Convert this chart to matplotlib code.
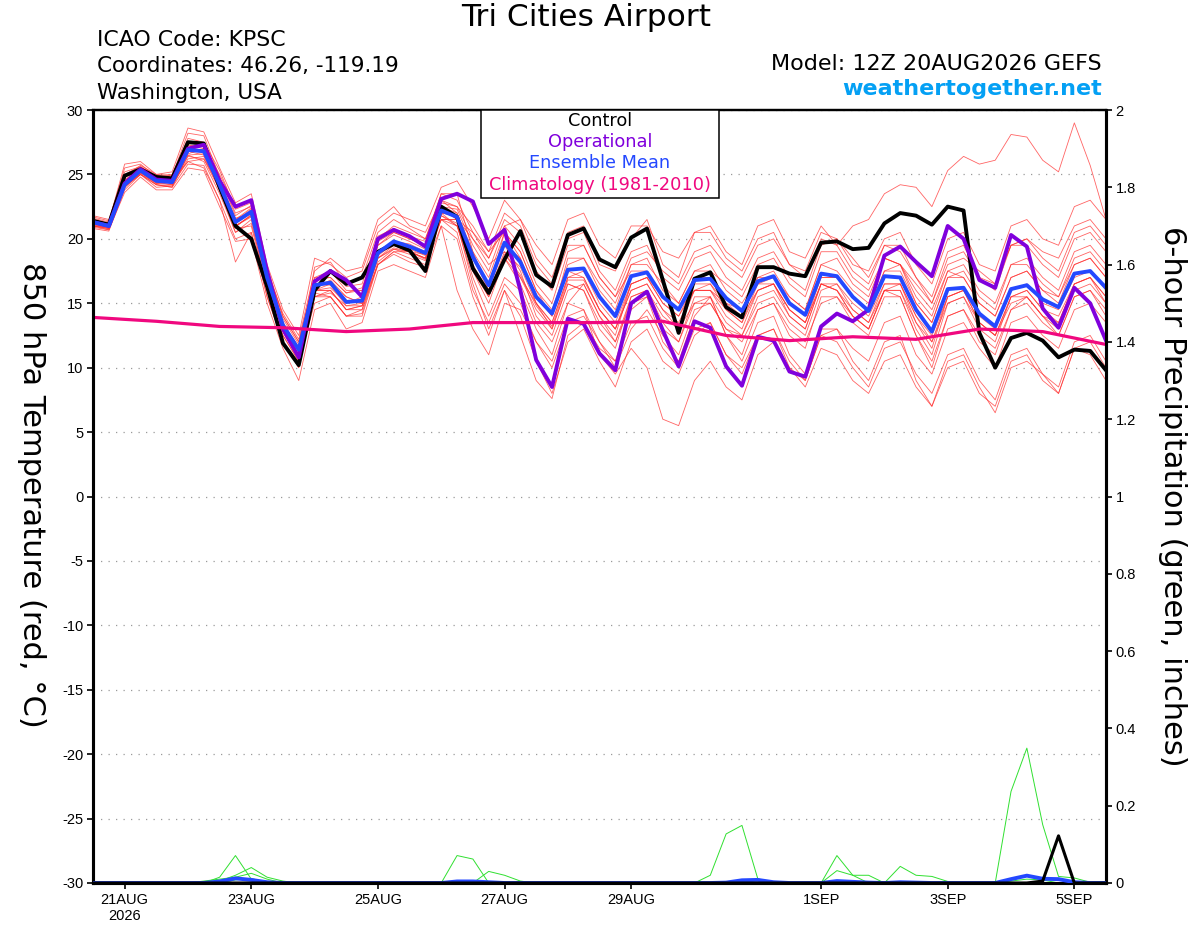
import matplotlib
matplotlib.use('Agg')
import matplotlib.pyplot as plt
import matplotlib.ticker as mticker
from matplotlib.patches import Rectangle
import pandas as pd

plt.rcParams['font.family'] = ['Liberation Sans', 'DejaVu Sans']
plt.rcParams['axes.unicode_minus'] = False
WIDE = ['DejaVu Sans']

# ---------------- data ----------------
times = pd.date_range('2026-08-20 12:00', periods=65, freq='6h')
clim_times = pd.date_range('2026-08-20 12:00', periods=17, freq='1D')

control = [21.4, 21.1, 24.9, 25.4, 24.8, 24.7, 27.5, 27.4, 24.0, 21.0, 20.0,
           16.3, 11.9, 10.2, 16.0, 17.5, 16.5, 17.0, 19.0, 19.6, 19.1, 17.5,
           22.5, 21.7, 17.7, 15.8, 18.4, 20.6, 17.2, 16.3, 20.3, 20.8, 18.4,
           17.8, 20.1, 20.8, 16.8, 12.7, 16.9, 17.4, 14.7, 13.9, 17.8, 17.8,
           17.3, 17.1, 19.7, 19.8, 19.2, 19.3, 21.2, 22.0, 21.8, 21.1, 22.5,
           22.2, 12.7, 10.0, 12.3, 12.7, 12.1, 10.8, 11.4, 11.3, 9.8]

operational = [21.3, 21.0, 24.3, 25.4, 24.6, 24.5, 27.0, 27.3, 24.5, 22.5, 23.0,
               17.5, 13.0, 10.8, 16.7, 17.5, 16.8, 15.5, 20.0, 20.7, 20.2, 19.4,
               23.1, 23.5, 22.9, 19.6, 20.7, 16.0, 10.6, 8.5, 13.8, 13.4, 11.1,
               9.8, 15.0, 15.9, 12.9, 10.1, 13.6, 13.1, 10.1, 8.6, 12.4, 12.1,
               9.7, 9.3, 13.2, 14.2, 13.6, 14.5, 18.7, 19.4, 18.2, 17.1, 21.0,
               20.0, 16.8, 16.2, 20.3, 19.4, 14.6, 13.1, 16.2, 15.0, 12.1]

ens_mean = [21.3, 21.0, 24.2, 25.3, 24.5, 24.4, 26.9, 26.8, 24.2, 21.3, 22.1,
            17.0, 13.3, 11.4, 16.4, 16.6, 15.1, 15.2, 18.9, 19.8, 19.4, 18.9,
            22.2, 21.7, 18.6, 16.4, 19.7, 18.2, 15.5, 14.2, 17.6, 17.7, 15.5,
            14.0, 17.1, 17.4, 15.5, 14.5, 16.8, 16.9, 15.4, 14.4, 16.7, 17.1,
            15.0, 14.1, 17.3, 17.1, 15.5, 14.4, 17.1, 17.0, 14.5, 12.8, 16.1,
            16.2, 14.2, 13.2, 16.1, 16.4, 15.3, 14.7, 17.3, 17.5, 16.2]

climatology = [13.9, 13.6, 13.2, 13.1, 12.8, 13.0, 13.5, 13.5, 13.5,
               13.6, 12.5, 12.1, 12.4, 12.2, 13.0, 12.8, 11.8]

mem01 = [21.5, 21.2, 25.5, 25.8, 24.8, 24.9, 28.2, 28.0, 24.8, 22.0, 22.5,
         17.5, 13.0, 11.0, 17.8, 18.2, 16.5, 17.0, 20.5, 21.5, 20.8, 20.0,
         23.5, 23.0, 20.5, 18.5, 21.0, 21.5, 18.5, 17.0, 20.5, 21.0, 18.0,
         17.5, 20.0, 21.5, 18.0, 17.0, 20.5, 21.0, 19.0, 18.0, 21.0, 21.5,
         19.0, 18.5, 21.0, 19.5, 21.0, 21.5, 23.5, 24.2, 24.0, 22.5, 25.3,
         26.4, 25.8, 26.1, 28.1, 27.9, 26.1, 25.2, 29.0, 25.7, 21.5]
mem02 = [21.0, 20.8, 24.0, 25.0, 24.2, 24.0, 26.5, 26.0, 23.5, 20.5, 21.5,
         16.0, 12.5, 10.5, 15.0, 15.5, 14.0, 14.5, 18.0, 19.0, 18.5, 18.0,
         21.5, 20.5, 16.0, 13.5, 16.5, 15.0, 12.0, 10.5, 14.0, 14.5, 12.0,
         10.5, 13.5, 14.0, 11.5, 10.0, 13.0, 13.5, 11.0, 9.5, 12.5, 13.0,
         10.5, 9.0, 12.5, 12.0, 10.0, 8.5, 11.5, 12.0, 9.5, 8.0, 11.0,
         11.5, 9.0, 7.5, 11.0, 11.5, 9.5, 8.0, 11.5, 11.0, 9.0]
mem03 = [21.8, 21.5, 25.2, 25.6, 24.9, 25.0, 27.5, 27.2, 25.0, 22.5, 23.0,
         17.8, 14.0, 12.0, 17.0, 17.5, 16.0, 16.0, 20.0, 21.0, 20.5, 20.0,
         23.0, 22.5, 21.0, 19.0, 22.0, 21.0, 18.0, 16.5, 20.0, 20.5, 17.5,
         16.0, 19.0, 19.5, 17.0, 16.0, 18.5, 19.0, 17.0, 16.0, 18.5, 19.0,
         17.0, 16.0, 19.5, 20.0, 18.0, 17.5, 20.0, 20.5, 18.0, 16.5, 20.0,
         20.5, 18.0, 17.5, 21.0, 21.5, 20.0, 19.5, 22.5, 23.0, 21.5]
mem04 = [21.1, 20.9, 24.5, 25.5, 24.6, 24.3, 26.0, 25.5, 23.0, 20.0, 20.5,
         15.5, 12.0, 10.0, 16.0, 16.5, 15.5, 15.0, 19.5, 20.5, 20.0, 19.5,
         22.5, 22.0, 19.0, 17.0, 20.5, 19.0, 16.0, 14.5, 18.0, 18.5, 16.0,
         14.5, 18.0, 18.0, 16.5, 15.0, 17.5, 18.0, 16.0, 15.0, 17.0, 17.5,
         15.5, 14.5, 18.0, 17.5, 16.0, 15.0, 18.5, 18.0, 15.5, 14.0, 17.5,
         17.0, 15.0, 14.0, 17.0, 17.5, 16.0, 15.5, 18.0, 18.5, 17.0]
mem05 = [21.5, 21.0, 24.0, 25.2, 24.4, 24.6, 27.0, 27.3, 24.5, 21.5, 22.0,
         17.0, 13.5, 11.5, 16.5, 16.5, 15.0, 15.5, 19.0, 19.5, 19.0, 18.5,
         22.0, 21.0, 17.0, 14.0, 17.0, 16.0, 13.0, 11.0, 15.0, 16.5, 14.0,
         12.0, 15.0, 15.5, 12.0, 10.5, 14.0, 15.5, 12.5, 10.5, 13.5, 14.0,
         11.0, 9.5, 13.0, 13.0, 10.5, 9.0, 12.0, 12.5, 9.0, 7.0, 10.5,
         11.0, 8.5, 6.5, 10.0, 10.5, 9.5, 8.5, 12.0, 12.5, 10.5]
mem06 = [20.8, 20.6, 23.8, 25.0, 24.0, 24.1, 26.2, 26.4, 23.8, 20.8, 21.0,
         16.0, 12.5, 10.5, 15.5, 16.0, 14.5, 14.8, 18.0, 19.0, 19.0, 18.8,
         21.5, 21.5, 20.0, 18.0, 19.0, 17.0, 15.0, 13.5, 17.0, 17.0, 14.5,
         13.0, 16.0, 16.5, 14.5, 13.0, 16.0, 16.0, 14.0, 13.0, 16.0, 16.5,
         14.0, 13.0, 16.5, 16.0, 14.0, 13.0, 16.0, 16.0, 13.0, 11.0, 15.0,
         15.5, 13.0, 12.0, 15.5, 16.0, 14.5, 13.5, 16.5, 17.0, 15.5]
mem07 = [21.6, 21.3, 25.8, 26.0, 25.0, 25.2, 28.6, 28.3, 25.5, 22.8, 23.5,
         18.0, 14.5, 12.5, 18.5, 18.0, 17.0, 17.5, 21.0, 22.0, 21.5, 21.0,
         24.0, 24.5, 22.5, 20.0, 23.0, 21.5, 19.5, 18.0, 21.5, 22.0, 19.5,
         18.5, 21.0, 21.0, 19.0, 18.5, 20.5, 20.5, 18.5, 17.5, 20.0, 20.5,
         18.0, 17.5, 20.5, 20.0, 18.5, 17.0, 19.5, 19.0, 17.0, 15.5, 19.0,
         19.5, 17.0, 16.5, 19.5, 20.0, 18.5, 17.5, 20.5, 21.0, 19.5]
mem08 = [21.2, 21.0, 24.3, 25.2, 24.3, 24.2, 26.8, 26.5, 24.0, 21.0, 21.8,
         16.5, 13.0, 11.0, 16.0, 16.0, 14.5, 14.5, 18.5, 19.5, 19.0, 18.5,
         21.8, 21.0, 17.5, 15.0, 18.5, 16.5, 13.5, 12.0, 15.0, 14.5, 11.0,
         9.5, 11.5, 10.0, 6.0, 5.5, 9.0, 10.5, 8.5, 7.5, 11.0, 12.0,
         10.0, 9.0, 12.5, 13.0, 11.5, 10.5, 13.5, 14.0, 11.0, 9.5, 13.0,
         13.5, 11.5, 10.0, 13.5, 14.0, 12.5, 11.5, 14.5, 15.0, 13.5]
mem09 = [21.0, 20.7, 23.6, 24.8, 23.8, 23.8, 25.5, 25.3, 22.5, 19.8, 20.0,
         15.0, 11.5, 9.0, 14.5, 15.0, 13.0, 13.5, 17.5, 18.0, 17.5, 17.0,
         21.0, 16.0, 13.0, 11.0, 15.0, 14.5, 12.0, 10.0, 13.5, 14.0, 12.0,
         10.0, 13.0, 14.5, 12.5, 11.0, 14.5, 15.0, 13.0, 12.0, 14.5, 15.0,
         13.0, 12.0, 15.0, 15.5, 14.0, 13.0, 16.0, 16.5, 14.0, 12.0, 15.5,
         16.0, 13.5, 12.5, 15.0, 15.5, 14.0, 13.0, 16.0, 16.5, 15.0]
mem10 = [21.4, 21.1, 24.6, 25.4, 24.7, 24.5, 27.3, 27.0, 24.3, 21.4, 22.3,
         17.2, 13.8, 11.8, 16.8, 17.0, 15.8, 16.0, 19.5, 20.3, 19.8, 19.2,
         22.5, 22.3, 19.5, 17.5, 21.0, 19.5, 16.5, 15.0, 19.0, 19.5, 17.0,
         15.5, 18.5, 19.0, 17.5, 16.5, 19.0, 19.5, 18.0, 17.0, 19.5, 20.0,
         18.0, 17.0, 20.0, 19.5, 17.5, 16.5, 19.5, 19.5, 17.0, 15.0, 18.5,
         19.0, 17.0, 16.0, 19.5, 19.5, 18.0, 17.0, 20.0, 20.5, 19.0]
mem11 = [21.3, 20.9, 24.0, 25.1, 24.4, 24.2, 26.4, 26.2, 23.8, 20.5, 21.2,
         16.5, 12.8, 10.8, 15.8, 15.5, 14.0, 14.0, 18.0, 18.8, 18.2, 17.8,
         21.0, 20.0, 15.5, 12.5, 16.0, 14.0, 10.5, 8.0, 12.0, 13.0, 10.5,
         8.5, 12.0, 13.0, 10.5, 9.5, 12.5, 13.5, 11.0, 10.0, 12.5, 13.0,
         10.0, 8.5, 11.5, 11.0, 9.0, 8.0, 10.5, 11.0, 8.5, 7.0, 10.0,
         10.5, 8.0, 7.0, 10.5, 11.0, 9.0, 8.0, 11.5, 12.0, 10.0]
mem12 = [21.7, 21.4, 24.9, 25.7, 25.0, 24.9, 27.8, 27.5, 25.3, 22.3, 22.8,
         17.5, 14.2, 12.2, 17.5, 18.5, 17.5, 17.8, 21.5, 22.5, 21.0, 20.5,
         23.0, 22.0, 18.5, 16.0, 19.5, 18.5, 15.5, 14.0, 17.5, 17.0, 14.5,
         13.0, 16.5, 17.0, 15.0, 14.0, 16.0, 16.5, 14.5, 13.5, 16.5, 17.0,
         15.5, 14.5, 18.0, 18.5, 16.5, 15.5, 18.5, 18.0, 15.0, 13.5, 17.0,
         17.5, 15.5, 14.5, 18.0, 18.5, 17.0, 16.0, 19.0, 19.5, 18.0]
mem13 = [20.9, 20.7, 24.1, 25.0, 24.2, 24.0, 25.8, 25.7, 23.0, 18.2, 20.5,
         15.5, 12.0, 10.0, 15.5, 15.8, 14.8, 15.0, 18.5, 19.2, 19.0, 18.5,
         21.5, 21.5, 20.5, 19.0, 20.5, 18.5, 15.0, 13.0, 16.5, 16.0, 13.0,
         11.5, 15.5, 16.0, 13.5, 12.0, 15.5, 15.5, 12.5, 11.0, 14.5, 15.0,
         12.5, 11.5, 15.5, 15.5, 13.5, 12.5, 15.5, 15.5, 12.5, 10.0, 14.0,
         14.5, 12.0, 11.0, 14.5, 15.5, 14.0, 12.5, 15.5, 16.0, 14.5]
mem14 = [21.2, 20.9, 24.5, 25.3, 24.6, 24.6, 27.2, 27.3, 24.8, 21.8, 22.6,
         17.3, 13.5, 11.3, 16.8, 17.5, 16.3, 16.5, 20.2, 20.8, 20.2, 19.8,
         23.5, 23.5, 19.0, 16.0, 20.5, 19.0, 16.0, 14.0, 18.5, 18.5, 16.5,
         15.0, 18.0, 18.5, 16.0, 15.0, 17.5, 17.5, 16.5, 15.5, 18.0, 18.5,
         16.5, 15.5, 19.0, 19.0, 17.0, 16.0, 18.5, 18.0, 16.0, 14.5, 17.5,
         18.0, 16.0, 15.0, 18.0, 18.0, 16.5, 15.5, 18.5, 19.0, 17.5]
mem15 = [21.0, 20.8, 24.8, 25.4, 24.3, 24.4, 26.8, 26.8, 23.8, 21.0, 21.8,
         16.8, 13.3, 11.5, 16.0, 16.2, 15.0, 15.2, 19.0, 19.5, 19.3, 18.8,
         22.3, 21.5, 17.5, 15.5, 18.5, 17.0, 14.5, 13.0, 16.5, 16.0, 13.5,
         12.0, 15.5, 16.0, 14.0, 13.0, 15.0, 15.0, 13.0, 12.5, 15.0, 15.5,
         13.5, 12.5, 16.0, 16.5, 14.5, 13.5, 16.5, 16.5, 13.5, 11.5, 15.5,
         16.0, 13.5, 12.5, 15.5, 15.5, 14.0, 13.5, 16.5, 17.0, 15.0]
mem16 = [21.4, 21.0, 24.1, 25.0, 24.4, 24.7, 26.6, 27.0, 24.5, 21.6, 22.0,
         17.0, 13.2, 11.2, 16.2, 16.8, 15.5, 15.0, 18.8, 19.8, 19.6, 19.0,
         22.0, 21.8, 18.5, 16.5, 19.5, 17.5, 14.0, 12.5, 16.0, 16.5, 14.0,
         12.5, 16.5, 17.0, 15.5, 14.5, 16.0, 16.0, 15.0, 14.5, 17.0, 17.0,
         15.0, 14.0, 17.0, 17.0, 15.5, 14.5, 17.5, 18.0, 16.5, 15.0, 18.0,
         18.5, 17.5, 16.5, 19.5, 20.0, 19.0, 18.5, 21.0, 21.5, 20.0]
mem17 = [21.3, 21.0, 24.4, 25.5, 24.5, 24.3, 27.0, 26.9, 24.1, 21.2, 22.2,
         17.0, 13.4, 11.6, 16.5, 16.4, 14.8, 14.8, 18.7, 19.6, 19.2, 18.7,
         22.0, 21.8, 18.0, 15.8, 19.0, 17.8, 15.0, 13.5, 17.0, 17.5, 15.0,
         13.5, 16.5, 17.0, 15.0, 14.0, 16.5, 16.5, 15.0, 14.0, 16.0, 16.5,
         14.5, 13.5, 16.5, 16.5, 15.0, 14.0, 16.5, 16.5, 14.0, 12.5, 15.5,
         16.0, 14.0, 13.0, 16.0, 16.5, 15.0, 14.5, 17.0, 17.5, 16.0]
mem18 = [21.1, 20.8, 24.2, 25.1, 24.5, 24.5, 26.9, 26.7, 24.0, 21.0, 21.7,
         16.8, 13.0, 11.0, 16.0, 16.0, 14.5, 14.8, 18.5, 19.3, 19.0, 18.4,
         21.8, 21.2, 16.5, 13.0, 16.0, 12.5, 9.0, 7.6, 12.5, 13.5, 11.5,
         10.5, 14.5, 15.5, 13.0, 12.0, 15.0, 15.5, 13.5, 12.5, 15.5, 16.0,
         14.0, 13.0, 16.5, 16.0, 14.5, 13.5, 16.0, 16.0, 13.5, 12.0, 15.0,
         15.5, 13.5, 12.5, 15.5, 16.0, 14.5, 14.0, 16.5, 17.0, 15.5]
mem19 = [21.5, 21.2, 25.0, 25.6, 24.8, 24.6, 26.0, 26.2, 24.2, 21.5, 22.4,
         17.5, 14.0, 12.0, 17.0, 17.0, 15.8, 16.2, 19.8, 20.5, 20.0, 19.5,
         22.8, 22.5, 20.0, 18.5, 21.5, 20.5, 17.5, 16.0, 19.5, 19.5, 17.0,
         15.5, 17.5, 17.5, 15.5, 14.5, 17.0, 17.0, 15.5, 14.5, 16.5, 16.5,
         14.5, 13.5, 16.5, 16.0, 14.0, 13.0, 16.0, 15.5, 12.5, 10.5, 14.0,
         14.5, 12.5, 11.5, 14.5, 15.0, 13.5, 12.5, 15.5, 16.0, 14.0]
mem20 = [21.0, 20.9, 24.3, 25.2, 24.2, 24.1, 26.5, 26.6, 23.9, 20.9, 21.9,
         16.6, 12.8, 10.6, 15.5, 15.5, 14.0, 14.2, 18.2, 19.2, 18.8, 18.3,
         21.5, 21.0, 17.8, 15.5, 18.8, 17.2, 14.8, 13.2, 16.8, 16.8, 14.5,
         13.0, 16.0, 16.5, 14.5, 13.5, 16.0, 16.0, 14.5, 13.5, 16.0, 16.5,
         14.5, 13.5, 17.0, 17.0, 15.5, 14.5, 17.5, 17.5, 15.0, 13.5, 17.0,
         17.0, 15.0, 14.0, 17.0, 17.5, 16.0, 15.0, 18.0, 18.5, 17.0]

members = [mem01, mem02, mem03, mem04, mem05, mem06, mem07, mem08, mem09, mem10,
           mem11, mem12, mem13, mem14, mem15, mem16, mem17, mem18, mem19, mem20]

# 6-hour precipitation (inches)
prcp_a = [0, 0, 0, 0, 0, 0, 0, 0, 0.015, 0.071, 0.01, 0, 0, 0, 0, 0, 0, 0, 0, 0,
          0, 0, 0, 0, 0, 0, 0, 0, 0, 0, 0, 0, 0, 0, 0, 0, 0, 0, 0, 0,
          0, 0, 0, 0, 0, 0, 0, 0, 0, 0, 0, 0, 0, 0, 0, 0, 0, 0, 0.237, 0.349,
          0.151, 0.017, 0.013, 0.002, 0.004]
prcp_b = [0, 0, 0, 0, 0, 0, 0, 0, 0.005, 0.02, 0.04, 0.015, 0.005, 0, 0, 0, 0, 0, 0, 0,
          0, 0, 0, 0, 0, 0, 0, 0, 0, 0, 0, 0, 0, 0, 0, 0, 0, 0, 0, 0.02,
          0.127, 0.149, 0.011, 0, 0, 0, 0, 0, 0, 0, 0, 0, 0, 0, 0, 0, 0, 0, 0, 0,
          0, 0, 0, 0, 0]
prcp_c = [0, 0, 0, 0, 0, 0, 0, 0.005, 0.01, 0.015, 0.025, 0.01, 0, 0, 0, 0, 0, 0, 0, 0,
          0, 0, 0, 0.071, 0.062, 0, 0, 0, 0, 0, 0, 0, 0, 0, 0, 0, 0, 0, 0, 0,
          0, 0, 0, 0, 0, 0, 0, 0.071, 0.02, 0, 0, 0, 0, 0, 0, 0, 0, 0, 0, 0,
          0, 0, 0, 0, 0]
prcp_d = [0, 0, 0, 0, 0, 0, 0, 0, 0, 0, 0, 0, 0, 0, 0, 0, 0, 0, 0, 0,
          0, 0, 0, 0, 0, 0.03, 0.02, 0.005, 0, 0, 0, 0, 0, 0, 0, 0, 0, 0, 0, 0,
          0, 0, 0, 0, 0, 0, 0, 0.032, 0.02, 0.02, 0, 0.043, 0.02, 0.017, 0.004, 0, 0, 0, 0, 0,
          0, 0, 0, 0, 0]
prcp_e = [0, 0, 0, 0, 0, 0, 0, 0, 0, 0.008, 0.012, 0, 0, 0, 0, 0, 0, 0, 0, 0,
          0, 0, 0, 0, 0, 0, 0, 0, 0, 0, 0, 0, 0, 0, 0, 0, 0, 0, 0, 0,
          0, 0, 0, 0, 0, 0, 0, 0, 0, 0, 0, 0, 0, 0, 0, 0, 0, 0, 0.005, 0.01,
          0.008, 0, 0, 0, 0]
prcp_members = [prcp_a, prcp_b, prcp_c, prcp_d, prcp_e]

prcp_mean = [0, 0, 0, 0, 0, 0, 0, 0, 0.004, 0.012, 0.008, 0.002, 0, 0, 0, 0, 0, 0, 0, 0,
             0, 0, 0, 0.004, 0.004, 0.002, 0, 0, 0, 0, 0, 0, 0, 0, 0, 0, 0, 0, 0, 0,
             0.001, 0.007, 0.008, 0.002, 0, 0, 0, 0.005, 0.003, 0.001, 0, 0.002, 0.001, 0, 0, 0, 0, 0, 0.01, 0.019,
             0.011, 0.01, 0.002, 0, 0]
prcp_control = [0, 0, 0, 0, 0, 0, 0, 0, 0, 0, 0, 0, 0, 0, 0, 0, 0, 0, 0, 0,
                0, 0, 0, 0, 0, 0, 0, 0, 0, 0, 0, 0, 0, 0, 0, 0, 0, 0, 0, 0,
                0, 0, 0, 0, 0, 0, 0, 0, 0, 0, 0, 0, 0, 0, 0, 0, 0, 0, 0, 0,
                0.005, 0.122, 0, 0, 0]

tick_dates = pd.to_datetime(['2026-08-21', '2026-08-23', '2026-08-25', '2026-08-27',
                             '2026-08-29', '2026-09-01', '2026-09-03', '2026-09-05'])
tick_labels = ['21AUG\n2026', '23AUG', '25AUG', '27AUG', '29AUG', '1SEP', '3SEP', '5SEP']
temp_ticks = list(range(-30, 31, 5))
prcp_ticks = [0, 0.2, 0.4, 0.6, 0.8, 1.0, 1.2, 1.4, 1.6, 1.8, 2.0]

# ---------------- colours ----------------
C_MEM = '#ff3030'
C_OPER = '#8000dc'
C_MEAN = '#2448ff'
C_CLIM = '#f0087f'
C_PRCP = '#30e030'

# ---------------- figure ----------------
fig = plt.figure(figsize=(12, 9.27), dpi=100)
ax = fig.add_axes([93 / 1200, 1 - 883 / 927, (1106 - 93) / 1200, (883 - 110) / 927])

for m in members:
    ax.plot(times, m, color=C_MEM, lw=0.6, alpha=0.75, zorder=2)
ax.plot(times, control, color='black', lw=2.8, zorder=3, solid_joinstyle='round')
ax.plot(times, operational, color=C_OPER, lw=2.8, zorder=4, solid_joinstyle='round')
ax.plot(times, ens_mean, color=C_MEAN, lw=2.8, zorder=5, solid_joinstyle='round')
ax.plot(clim_times, climatology, color=C_CLIM, lw=2.3, zorder=6)

ax.set_xlim(times[0], times[-1])
ax.set_ylim(-30, 30)
ax.set_yticks(temp_ticks)
ax.set_xticks(tick_dates)
ax.set_xticklabels(tick_labels)
ax.yaxis.grid(True, linestyle=(0, (1, 5)), color='#9a9a9a', lw=0.9)
ax.set_axisbelow(True)
ax.tick_params(axis='y', labelsize=10.5, length=4, width=1.2, pad=3)
ax.tick_params(axis='x', labelsize=10.5, length=4, width=1.2, pad=3)
for s in ['left', 'bottom']:
    ax.spines[s].set_linewidth(2.2)
ax.spines['top'].set_linewidth(1.6)
ax.spines['right'].set_linewidth(2.2)

ax2 = ax.twinx()
for p in prcp_members:
    ax2.plot(times, p, color=C_PRCP, lw=0.7, zorder=2)
ax2.plot(times, prcp_mean, color=C_MEAN, lw=2.8, zorder=3)
ax2.plot(times, prcp_control, color='black', lw=2.2, zorder=4)
ax2.set_ylim(0, 2)
ax2.set_yticks(prcp_ticks)
ax2.yaxis.set_major_formatter(mticker.FormatStrFormatter('%g'))
ax2.tick_params(axis='y', labelsize=10.5, length=4, width=1.2, pad=3)
ax2.spines['right'].set_linewidth(2.2)
ax2.spines['left'].set_linewidth(2.2)
ax2.spines['bottom'].set_linewidth(2.2)
ax2.spines['top'].set_linewidth(1.6)
ax2.set_xlim(times[0], times[-1])

# ---------------- legend box ----------------
fig.patches.append(Rectangle((481 / 1200, 1 - 198 / 927), 238 / 1200, 88 / 927,
                             transform=fig.transFigure, facecolor='white',
                             edgecolor='black', lw=1.1, zorder=10))
leg_items = [('Control', 'black', 121), ('Operational', C_OPER, 142),
             ('Ensemble Mean', C_MEAN, 163), ('Climatology (1981-2010)', C_CLIM, 185)]
for txt, col, ypx in leg_items:
    fig.text(600 / 1200, 1 - ypx / 927, txt, color=col, fontsize=12.8, family=WIDE,
             ha='center', va='center', zorder=11)

# ---------------- header texts ----------------
fig.text(586 / 1200, 1 - 18 / 927, 'Tri Cities Airport', fontsize=22.5, family=WIDE,
         ha='center', va='center')
fig.text(97 / 1200, 1 - 40 / 927, 'ICAO Code: KPSC', fontsize=15.8, family=WIDE,
         ha='left', va='center')
fig.text(97 / 1200, 1 - 66 / 927, 'Coordinates: 46.26, -119.19', fontsize=15.5, family=WIDE,
         ha='left', va='center')
fig.text(97 / 1200, 1 - 93 / 927, 'Washington, USA', fontsize=15.5, family=WIDE,
         ha='left', va='center')
fig.text(1102 / 1200, 1 - 64 / 927, 'Model: 12Z 20AUG2026 GEFS', fontsize=16, family=WIDE,
         ha='right', va='center')
fig.text(1102 / 1200, 1 - 89 / 927, 'weathertogether.net', fontsize=16, fontweight='bold',
         family=WIDE, color='#04a0f4', ha='right', va='center')

fig.text(31 / 1200, 1 - 495 / 927, '850 hPa Temperature (red, °C)', fontsize=22,
         family=WIDE, rotation=270, ha='center', va='center')
fig.text(1172 / 1200, 1 - 496 / 927, '6-hour Precipitation (green, inches)', fontsize=22,
         family=WIDE, rotation=270, ha='center', va='center')

fig.savefig('out.png', dpi=100)
